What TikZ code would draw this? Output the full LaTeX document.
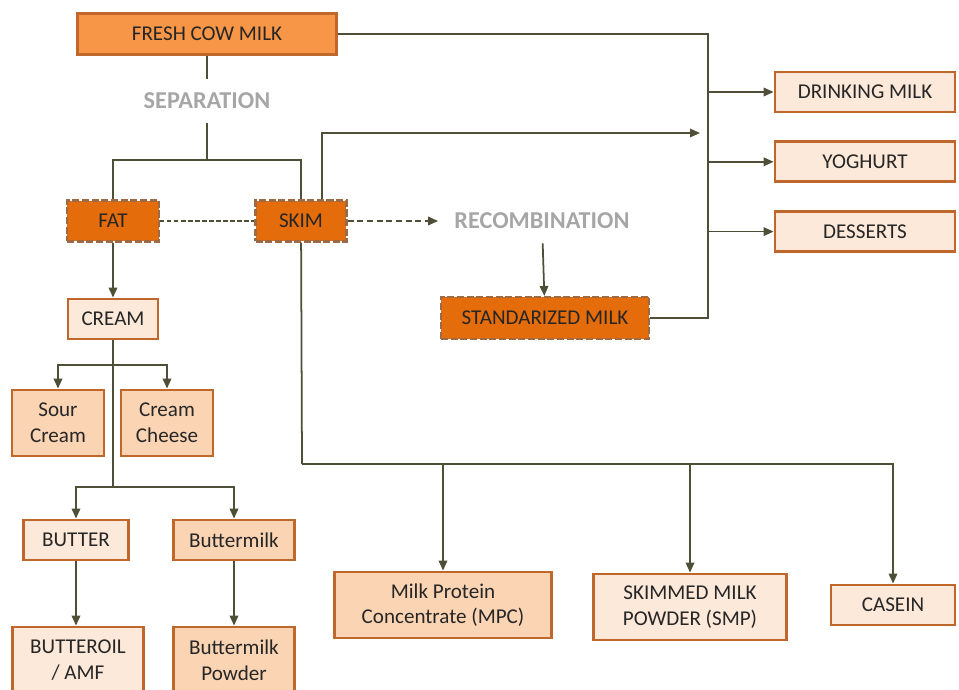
\documentclass[tikz,border=0pt]{standalone}
\usepackage{fontspec}
\setmainfont{Carlito}
\usetikzlibrary{arrows.meta}
\usetikzlibrary{positioning}

\definecolor{freshfill}{HTML}{F79646}
\definecolor{darkfill}{HTML}{E46C0A}
\definecolor{lightfill}{HTML}{FDE9D9}
\definecolor{midfill}{HTML}{FBD4B4}
\definecolor{boxline}{HTML}{C0682C}
\definecolor{dashline}{HTML}{9E6A45}
\definecolor{wire}{HTML}{4F4F38}
\definecolor{stagegray}{HTML}{A6A6A6}

\tikzset{
  box/.style={draw=boxline, line width=1.6pt, inner sep=0pt, minimum height=0.8cm,
    align=center, font=\fontsize{12}{14.6}\selectfont, text=black!85},
  lightbox/.style={box, fill=lightfill},
  midbox/.style={box, fill=midfill},
  splitbox/.style={box, fill=darkfill, draw=dashline, line width=1.2pt, dash pattern=on 4pt off 1.5pt},
  stage/.style={text=stagegray, font=\fontsize{13.8}{16}\selectfont\bfseries, inner xsep=0.32cm, inner ysep=0.28cm},
  link/.style={draw=wire, line width=1pt},
  flow/.style={link, -{Triangle[length=0.2cm, width=0.17cm]}},
}

\begin{document}
\begin{tikzpicture}[x=0.02cm, y=-0.02cm]
    \useasboundingbox (0,0) rectangle (959,689);
    \clip (0,0) rectangle (959,689);

    % separation of the raw milk
    \node[box, fill=freshfill, minimum width=5.18cm, minimum height=0.82cm] (fresh) at (207,34) {FRESH COW MILK};
    \node[stage] (separation) at (207,101) {SEPARATION};
    \coordinate (sepsplit) at (207,160);
    \node[splitbox, minimum width=1.84cm, minimum height=0.82cm] (fat) at (113,221) {FAT};
    \node[splitbox, minimum width=1.82cm, minimum height=0.82cm] (skim) at (301,221) {SKIM};
    \node[stage] (recomb) at (542,221) {RECOMBINATION};
    \node[splitbox, minimum width=4.16cm, minimum height=0.84cm] (stdmilk) at (545,318) {STANDARIZED MILK};

    % market milk products
    \node[lightbox, minimum width=3.6cm] (drink) at (865,92) {DRINKING MILK};
    \node[lightbox, minimum width=3.6cm, below=0.54cm of drink] (yoghurt) {YOGHURT};
    \node[lightbox, minimum width=3.6cm, below=0.54cm of yoghurt] (desserts) {DESSERTS};
    \coordinate (mixin) at (700,133);
    \coordinate (busbot) at (708,318);

    % fat line
    \node[lightbox, minimum width=1.8cm] (cream) at (113,319) {CREAM};
    \coordinate (creamsplit) at (113,365);
    \node[midbox, minimum width=1.84cm, minimum height=1.32cm] (sourcream) at (58,423) {Sour\\Cream};
    \node[midbox, minimum width=1.84cm, minimum height=1.32cm] (creamcheese) at (167,423) {Cream\\Cheese};
    \coordinate (buttersplit) at (113,487);
    \node[lightbox, minimum width=2.1cm] (butter) at (76,540) {BUTTER};
    \node[midbox, minimum width=2.42cm] (buttermilk) at (234,540) {Buttermilk};
    \node[lightbox, minimum width=2.62cm, minimum height=1.32cm] (butteroil) at (78,660) {BUTTEROIL\\/ AMF};
    \node[midbox, minimum width=2.42cm, minimum height=1.32cm] (bmpowder) at (234,660) {Buttermilk\\Powder};

    % skim line
    \coordinate (skimsplit) at (302,464);
    \node[midbox, minimum width=4.34cm, minimum height=1.32cm] (mpc) at (443,605) {Milk Protein\\Concentrate (MPC)};
    \node[lightbox, minimum width=3.86cm, minimum height=1.32cm] (smp) at (690,607) {SKIMMED MILK\\POWDER (SMP)};
    \node[lightbox, minimum width=2.48cm] (casein) at (893,605) {CASEIN};

    \draw[link] (fresh) -- (separation);
    \draw[link] (separation) -- (sepsplit);
    \draw[link] (sepsplit) -| (fat);
    \draw[link] (sepsplit) -| (skim);
    \draw[link, dash pattern=on 2.5pt off 1.5pt] (fat) -- (skim);
    \draw[flow, dash pattern=on 3.5pt off 2pt] (skim) -- (recomb);
    \draw[flow] (recomb) -- (stdmilk);

    \draw[flow] ([xshift=0.42cm]skim.north) |- (mixin);
    \draw[link] (fresh) -| (busbot) -- (stdmilk);
    \draw[flow] (drink -| busbot) -- (drink);
    \draw[flow] (yoghurt -| busbot) -- (yoghurt);
    \draw[flow] (desserts -| busbot) -- (desserts);

    \draw[flow] (fat) -- (cream);
    \draw[link] (cream) -- (buttersplit);
    \draw[flow] (creamsplit) -| (sourcream);
    \draw[flow] (creamsplit) -| (creamcheese);
    \draw[flow] (buttersplit) -| (butter);
    \draw[flow] (buttersplit) -| (buttermilk);
    \draw[flow] (butter) -- (butter |- butteroil.north);
    \draw[flow] (buttermilk) -- (bmpowder);

    \draw[link] (skim) -- (skimsplit);
    \draw[flow] (skimsplit) -| (mpc);
    \draw[flow] (skimsplit) -| (smp);
    \draw[flow] (skimsplit) -| (casein);

\end{tikzpicture}
\end{document}
